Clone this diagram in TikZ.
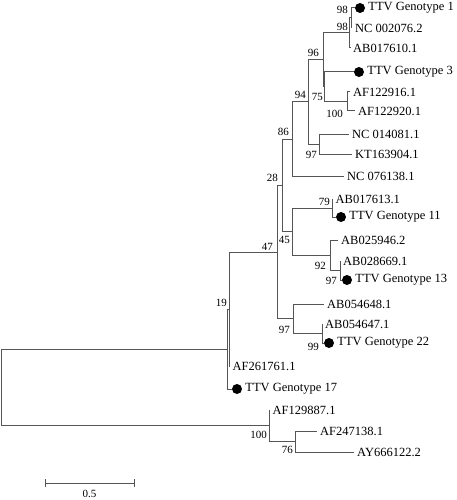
\documentclass[tikz,border=0pt]{standalone}
\usepackage{fontspec}
\setmainfont{Liberation Serif}
\definecolor{linegray}{RGB}{85,85,85}
\begin{document}
\begin{tikzpicture}[x=1pt,y=-1pt,
  br/.style={draw=linegray, line width=1pt},
  leaf/.style={anchor=west, inner sep=0pt, inner xsep=3pt, font=\fontsize{12.5}{14}\selectfont, text=black},
  dleaf/.style={anchor=west, inner sep=0pt, inner xsep=3pt, font=\fontsize{12.5}{14}\selectfont, text=black},
  bs/.style={anchor=east, inner sep=0pt, font=\fontsize{11}{12}\selectfont, text=black},
  dot/.style={circle, fill=black, inner sep=0pt, minimum size=10pt}]
\useasboundingbox (0,0) rectangle (457,500);
% internal nodes
\coordinate (root) at (1,387);
\coordinate (nX) at (227,349);
\coordinate (n19) at (229,309);
\coordinate (n47) at (277,252);
\coordinate (n28) at (282,185.3);
\coordinate (n86) at (292,139);
\coordinate (n94) at (308,102);
\coordinate (n96) at (323,59.9);
\coordinate (nA) at (349.5,33);
\coordinate (nB) at (351,18);
\coordinate (n75) at (324.5,86.75);
\coordinate (n100a) at (347,101.5);
\coordinate (n97a) at (319,144);
\coordinate (n45) at (292,231.6);
\coordinate (n79) at (332.5,208);
\coordinate (n92) at (330,255.25);
\coordinate (n97b) at (340,270.5);
\coordinate (n97c) at (293,318.75);
\coordinate (n99) at (322,333.5);
\coordinate (n100b) at (269,425.75);
\coordinate (n76) at (295,441.5);
% leaves with text
\node[leaf] (lNC2) at (352,28) {NC 002076.2};
\node[leaf] (lAB610) at (350,48) {AB017610.1};
\node[leaf] (lAF916) at (350,92) {AF122916.1};
\node[leaf] (lAF920) at (355,111) {AF122920.1};
\node[leaf] (lNC14) at (349,134) {NC 014081.1};
\node[leaf] (lKT) at (352,154) {KT163904.1};
\node[leaf] (lNC76) at (344,176) {NC 076138.1};
\node[leaf] (lAB613) at (332.5,199) {AB017613.1};
\node[leaf] (lAB946) at (338,240) {AB025946.2};
\node[leaf] (lAB669) at (340,261) {AB028669.1};
\node[leaf] (lAB648) at (324,304) {AB054648.1};
\node[leaf] (lAB647) at (322,324) {AB054647.1};
\node[leaf] (lAF761) at (229.5,366) {AF261761.1};
\node[leaf] (lAF887) at (269.5,410) {AF129887.1};
\node[leaf] (lAF138) at (317,431) {AF247138.1};
\node[leaf] (lAY) at (354,452) {AY666122.2};
% genotype leaves with dots
\node[dot] (g1) at (360,8) {};
\node[dleaf] (t1) at (g1.east) {TTV Genotype 1};
\node[dot] (g3) at (359,72) {};
\node[dleaf] (t3) at (g3.east) {TTV Genotype 3};
\node[dot] (g11) at (341,217) {};
\node[dleaf] (t11) at (g11.east) {TTV Genotype 11};
\node[dot] (g13) at (347,280) {};
\node[dleaf] (t13) at (g13.east) {TTV Genotype 13};
\node[dot] (g22) at (329,343) {};
\node[dleaf] (t22) at (g22.east) {TTV Genotype 22};
\node[dot] (g17) at (237,389) {};
\node[dleaf] (t17) at (g17.east) {TTV Genotype 17};
% branches
\draw[br] (root) |- (nX);
\draw[br] (root) |- (n100b);
\draw[br] (nX) |- (n19);
\draw[br] (nX) |- (g17.west);
\draw[br] (n19) |- (n47);
\draw[br] (n19) |- (lAF761.west);
\draw[br] (n47) |- (n28);
\draw[br] (n47) |- (n97c);
\draw[br] (n28) |- (n86);
\draw[br] (n28) |- (n45);
\draw[br] (n86) |- (n94);
\draw[br] (n86) |- (lNC76.west);
\draw[br] (n94) |- (n96);
\draw[br] (n94) |- (n97a);
\draw[br] (n96) |- (nA);
\draw[br] (n96) |- (n75);
\draw[br] (nA) |- (nB);
\draw[br] (nA) |- (lAB610.west);
\draw[br] (nB) |- (g1.west);
\draw[br] (nB) |- (lNC2.west);
\draw[br] (n75) |- (g3.west);
\draw[br] (n75) |- (n100a);
\draw[br] (n100a) |- (lAF916.west);
\draw[br] (n100a) |- (lAF920.west);
\draw[br] (n97a) |- (lNC14.west);
\draw[br] (n97a) |- (lKT.west);
\draw[br] (n45) |- (n79);
\draw[br] (n45) |- (n92);
\draw[br] (n79) |- (lAB613.west);
\draw[br] (n79) |- (g11.west);
\draw[br] (n92) |- (lAB946.west);
\draw[br] (n92) |- (n97b);
\draw[br] (n97b) |- (lAB669.west);
\draw[br] (n97b) |- (g13.west);
\draw[br] (n97c) |- (lAB648.west);
\draw[br] (n97c) |- (n99);
\draw[br] (n99) |- (lAB647.west);
\draw[br] (n99) |- (g22.west);
\draw[br] (n100b) |- (lAF887.west);
\draw[br] (n100b) |- (n76);
\draw[br] (n76) |- (lAF138.west);
\draw[br] (n76) |- (lAY.west);
% bootstrap values
\node[bs] (b1) at (348,10) {98};
\node[bs] (b2) at (348,27) {98};
\node[bs] (b3) at (319,53) {96};
\node[bs] (b4) at (306,95) {94};
\node[bs] (b5) at (323,97) {75};
\node[bs] (b6) at (343,114) {100};
\node[bs] (b7) at (289,132) {86};
\node[bs] (b8) at (317,155) {97};
\node[bs] (b9) at (278,178) {28};
\node[bs] (b10) at (330,202) {79};
\node[bs] (b11) at (290,240) {45};
\node[bs] (b12) at (273,247) {47};
\node[bs] (b13) at (326,266) {92};
\node[bs] (b14) at (337,281) {97};
\node[bs] (b15) at (227,303) {19};
\node[bs] (b16) at (290,330) {97};
\node[bs] (b17) at (319,347) {99};
\node[bs] (b18) at (267,435) {100};
\node[bs] (b19) at (293,450) {76};
% scale bar
\coordinate (sbL) at (45,483);
\coordinate (sbR) at (134,483);
\draw[br] (sbL) -- (sbR);
\draw[br] ([yshift=-4pt]sbL) -- ([yshift=4pt]sbL);
\draw[br] ([yshift=-4pt]sbR) -- ([yshift=4pt]sbR);
\node[font=\fontsize{11}{12}\selectfont, inner sep=0pt] (sbT) at (89.5,494) {0.5};
\end{tikzpicture}
\end{document}
